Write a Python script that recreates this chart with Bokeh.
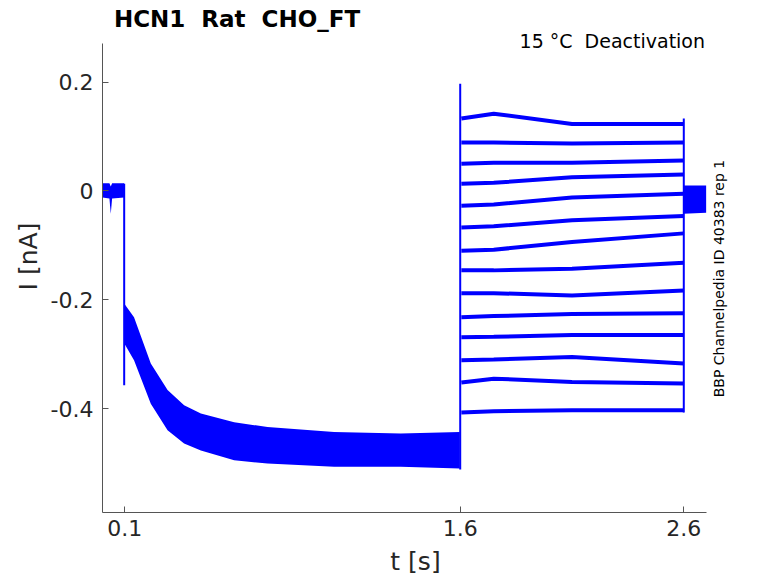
from bokeh.plotting import figure
from bokeh.models import Range1d, FixedTicker, Label
from bokeh.embed import file_html
from bokeh.resources import INLINE

# ---------------- data ----------------
x_ticks = [0.1, 1.6, 2.6]
x_tick_labels = ["0.1", "1.6", "2.6"]
y_ticks = [-0.4, -0.2, 0.0, 0.2]
y_tick_labels = ["-0.4", "-0.2", "0", "0.2"]

# holding period before the pulse (noise band edges)
pre_t = [0.0, 0.031, 0.037, 0.043, 0.097]
pre_hi = [0.014, 0.014, 0.008, 0.014, 0.014]
pre_lo = [-0.012, -0.014, -0.042, -0.014, -0.012]

# activation period: band covering all sweeps (upper / lower edges)
decay_t = [0.097, 0.141, 0.216, 0.291, 0.365, 0.44, 0.589, 0.738, 1.036, 1.334, 1.598]
decay_hi = [-0.207, -0.232, -0.317, -0.366, -0.394, -0.409, -0.425, -0.434, -0.443, -0.446, -0.443]
decay_lo = [-0.280, -0.311, -0.391, -0.440, -0.464, -0.477, -0.495, -0.501, -0.507, -0.507, -0.510]

# deactivation steps: one trace per test potential
step_t = [1.605, 1.75, 2.1, 2.6]
step_levels = [
    [0.133, 0.142, 0.123, 0.123],
    [0.089, 0.089, 0.087, 0.089],
    [0.050, 0.052, 0.052, 0.056],
    [0.013, 0.015, 0.025, 0.030],
    [-0.027, -0.025, -0.012, -0.005],
    [-0.067, -0.065, -0.054, -0.046],
    [-0.110, -0.108, -0.094, -0.078],
    [-0.146, -0.146, -0.143, -0.132],
    [-0.188, -0.188, -0.192, -0.183],
    [-0.232, -0.230, -0.226, -0.225],
    [-0.269, -0.268, -0.265, -0.265],
    [-0.311, -0.310, -0.305, -0.317],
    [-0.352, -0.345, -0.351, -0.354],
    [-0.407, -0.405, -0.403, -0.403],
]

# return to holding potential
tail_t = [2.6, 2.7]
tail_hi = [0.010, 0.010]
tail_lo = [-0.042, -0.040]

# capacitive transients / step edges
spike_t = [0.097, 1.6, 2.6]
spike_lo = [-0.357, -0.512, -0.407]
spike_hi = [0.013, 0.197, 0.133]

title_text = "HCN1\u00a0 Rat\u00a0 CHO_FT"
cond_text = "15 °C\u00a0 Deactivation"
id_text = "BBP Channelpedia ID 40383 rep 1"

BLUE = "#0000ff"
FONT = "DejaVu Sans"
AX = "#262626"

# the frame is extended above / right so that annotations are not clipped;
# axis bounds keep the drawn axes at the reference extent
p = figure(width=770, height=583, output_backend="svg", toolbar_location=None,
           title=None,
           x_range=Range1d(0, 2.8), y_range=Range1d(-0.591, 0.35),
           min_border_left=102, min_border_right=42, min_border_top=0,
           min_border_bottom=71)

p.varea(x=pre_t, y1=pre_lo, y2=pre_hi, fill_color=BLUE)
p.varea(x=decay_t, y1=decay_lo, y2=decay_hi, fill_color=BLUE)
p.varea(x=tail_t, y1=tail_lo, y2=tail_hi, fill_color=BLUE)
for lv in step_levels:
    p.line(step_t, lv, line_color=BLUE, line_width=4)
p.segment(x0=spike_t, x1=spike_t, y0=spike_lo, y1=spike_hi, line_color=BLUE, line_width=2)

p.add_layout(Label(x=0.051, y=0.316, text=title_text, text_align="left",
                   text_baseline="middle", text_font=FONT, text_font_size="23px",
                   text_font_style="bold", text_color="#000000"))
p.add_layout(Label(x=2.695, y=0.2755, text=cond_text, text_align="right",
                   text_baseline="middle", text_font=FONT, text_font_size="19px",
                   text_color="#000000"))
p.add_layout(Label(x=2.756, y=-0.161, text=id_text,
                   angle=1.5708, text_align="center", text_baseline="middle",
                   text_font=FONT, text_font_size="14px", text_color="#000000"))

# axes
p.grid.visible = False
p.outline_line_color = None
for ax, ticks, labels in ((p.xaxis, x_ticks, x_tick_labels), (p.yaxis, y_ticks, y_tick_labels)):
    ax.ticker = FixedTicker(ticks=ticks)
    ax.major_label_overrides = {t: s for t, s in zip(ticks, labels)}
    ax.axis_line_color = "#555555"
    ax.major_tick_line_color = "#555555"
    ax.major_tick_in = 6
    ax.major_tick_out = 0
    ax.minor_tick_line_color = None
    ax.major_label_text_font = FONT
    ax.major_label_text_font_size = "22px"
    ax.major_label_text_color = AX
    ax.axis_label_text_font = FONT
    ax.axis_label_text_font_size = "25px"
    ax.axis_label_text_font_style = "normal"
    ax.axis_label_text_color = AX

p.xaxis.bounds = (0, 2.7)
p.yaxis.bounds = (-0.591, 0.271)
p.xaxis.axis_label = "t [s]"
p.yaxis.axis_label = "I [nA]"
p.xaxis.major_label_standoff = 7
p.xaxis.axis_label_standoff = 8
p.yaxis.major_label_standoff = 9
p.yaxis.axis_label_standoff = 5

open("out.html", "w").write(file_html(p, INLINE))
